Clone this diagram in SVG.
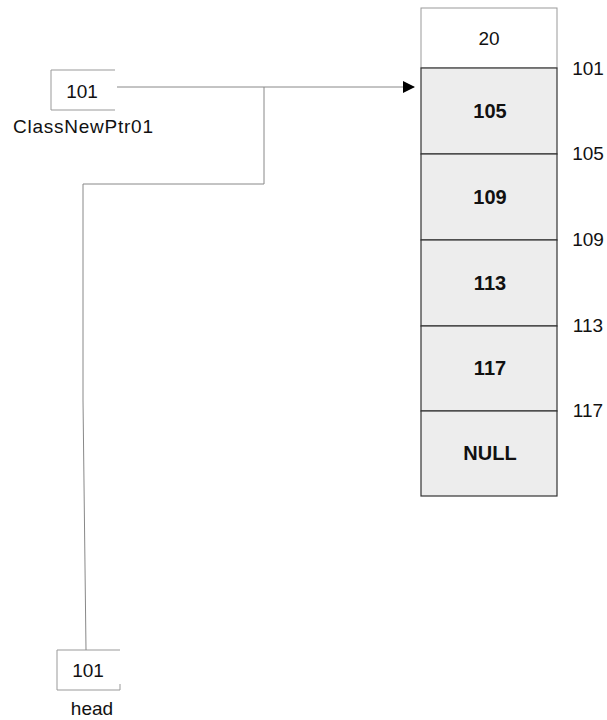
<svg xmlns="http://www.w3.org/2000/svg" width="607" height="720" viewBox="0 0 607 720">
<style>
.t{font-family:"Liberation Sans",Arial,sans-serif;font-size:19px;fill:#111;}
.b{font-weight:bold;font-size:20px;}
.cell{fill:#ededed;stroke:#333;stroke-width:1.2;}
.top{fill:#fff;stroke:#999;stroke-width:1;}
.ln{stroke:#888;stroke-width:1;fill:none;}
.box{stroke:#999;stroke-width:1;fill:none;}
</style>
<defs>
<marker id="ah" markerWidth="12" markerHeight="12" refX="11" refY="6" orient="auto" markerUnits="userSpaceOnUse">
<path d="M0,0 L12,6 L0,12 Z" fill="#000"/>
</marker>
</defs>
<g id="memory">
<g id="cell20"><rect class="top" x="421" y="8" width="136" height="60"/><text class="t" x="489" y="45" text-anchor="middle">20</text></g>
<g id="cell105"><rect class="cell" x="421" y="68" width="136" height="86"/><text class="t b" x="490" y="118" text-anchor="middle">105</text></g>
<g id="cell109"><rect class="cell" x="421" y="154" width="136" height="86"/><text class="t b" x="490" y="204" text-anchor="middle">109</text></g>
<g id="cell113"><rect class="cell" x="421" y="240" width="136" height="86"/><text class="t b" x="490" y="290" text-anchor="middle">113</text></g>
<g id="cell117"><rect class="cell" x="421" y="326" width="136" height="85"/><text class="t b" x="490" y="375" text-anchor="middle">117</text></g>
<g id="cellNULL"><rect class="cell" x="421" y="411" width="136" height="85"/><text class="t b" x="490" y="460" text-anchor="middle">NULL</text></g>
<g id="addr">
<text class="t" x="588" y="75" text-anchor="middle">101</text>
<text class="t" x="588" y="160" text-anchor="middle">105</text>
<text class="t" x="588" y="246" text-anchor="middle">109</text>
<text class="t" x="588" y="332" text-anchor="middle">113</text>
<text class="t" x="588" y="417" text-anchor="middle">117</text>
</g>
</g>
<g id="ptr">
<path class="box" d="M51,70 H115 M51,70 V110 H115"/>
<text class="t" x="82" y="98" text-anchor="middle">101</text>
<text class="t" x="13" y="133" textLength="140" lengthAdjust="spacing">ClassNewPtr01</text>
</g>
<g id="head">
<path class="box" d="M57,650 H120 M57,650 V690 H120 V684"/>
<text class="t" x="88" y="677" text-anchor="middle">101</text>
<text class="t" x="92" y="715" text-anchor="middle">head</text>
</g>
<g id="connectors">
<path class="ln" d="M117,87 H414" marker-end="url(#ah)"/>
<path class="ln" d="M264,87 V184 H83 V400 L86,650"/>
</g>
</svg>
